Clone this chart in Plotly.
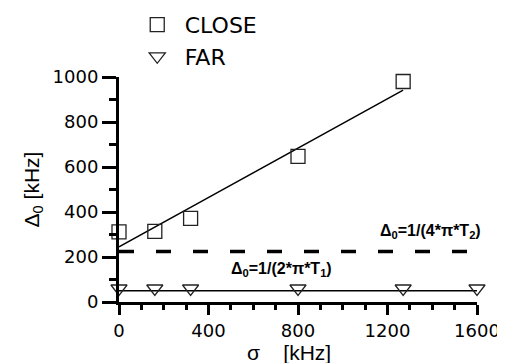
import numpy as np
import plotly.graph_objects as go

# ---- data ----
close_sigma = [0, 160, 320, 800, 1270]
close_delta = [312, 314, 372, 647, 980]
far_sigma = [0, 160, 320, 800, 1270, 1600]
far_delta = [60, 60, 60, 60, 60, 60]
t2_level = 225          # Δ0 = 1/(4πT2)
t1_level = 50           # Δ0 = 1/(2πT1)
t2_span = [0, 1560]
t1_span = [0, 1600]
x_ticks = [0, 400, 800, 1200, 1600]
y_ticks = [0, 200, 400, 600, 800, 1000]

slope, intercept = np.polyfit(close_sigma, close_delta, 1)
fit_x = [close_sigma[0], close_sigma[-1]]
fit_y = [intercept + slope * v for v in fit_x]

fig = go.Figure()
fig.add_trace(go.Scatter(x=fit_x, y=fit_y, mode="lines",
                         line=dict(color="black", width=1.5), showlegend=False))
fig.add_trace(go.Scatter(x=t2_span, y=[t2_level, t2_level], mode="lines",
                         line=dict(color="black", width=3.5, dash="15px,22px"), showlegend=False))
fig.add_trace(go.Scatter(x=t1_span, y=[t1_level, t1_level], mode="lines",
                         line=dict(color="black", width=1.5), showlegend=False))
fig.add_trace(go.Scatter(x=close_sigma, y=close_delta, mode="markers", name="CLOSE",
                         marker=dict(symbol="square-open", size=14, color="#222",
                                     line=dict(width=1.3)), cliponaxis=False))
fig.add_trace(go.Scatter(x=far_sigma, y=far_delta, mode="markers", name="FAR",
                         marker=dict(symbol="triangle-down-open", size=14, color="#222",
                                     line=dict(width=1.3)), cliponaxis=False))

fig.add_annotation(x=1392, y=t2_level, yshift=20, xref="x", yref="y",
                   text="<b>Δ<sub>0</sub>=1/(4*π*T<sub>2</sub>)</b>", showarrow=False,
                   font=dict(family="Liberation Sans", size=16, color="black"))
fig.add_annotation(x=727, y=t1_level, yshift=21, xref="x", yref="y",
                   text="<b>Δ<sub>0</sub>=1/(2*π*T<sub>1</sub>)</b>", showarrow=False,
                   font=dict(family="Liberation Sans", size=16, color="black"))
fig.add_annotation(x=0.475, y=-0.225, xref="paper", yref="paper", yanchor="middle",
                   text="σ\u00a0\u00a0\u00a0\u00a0[kHz]", showarrow=False,
                   font=dict(family="Liberation Sans", size=21, color="black"))

axis_common = dict(showline=True, linecolor="black", linewidth=3, showgrid=False,
                   zeroline=False, ticks="outside", tickcolor="black", automargin=False,
                   tickfont=dict(family="DejaVu Sans", size=18, color="black"))

fig.update_xaxes(range=[0, 1600], tickvals=x_ticks, ticklen=10, tickwidth=3,
                 minor=dict(dtick=100, ticks="outside", ticklen=5, tickwidth=3, tickcolor="black"),
                 **axis_common)
fig.update_yaxes(range=[0, 1000], tickvals=y_ticks, ticklen=14, tickwidth=3,
                 minor=dict(dtick=100, ticks="outside", ticklen=7, tickwidth=3, tickcolor="black"),
                 title=dict(text="Δ<sub>0</sub> [kHz]", standoff=8,
                            font=dict(family="Liberation Sans", size=21, color="black")),
                 **axis_common)

# page body has an 8px margin, so the figure is drawn 8px smaller and offset
fig.update_layout(
    width=497, height=355,
    margin=dict(l=111, r=28, t=69, b=61, autoexpand=False),
    plot_bgcolor="white", paper_bgcolor="white",
    showlegend=True,
    legend=dict(x=0.03, y=1.325, xanchor="left", yanchor="top",
                font=dict(family="DejaVu Sans", size=22, color="black"),
                bgcolor="rgba(0,0,0,0)", itemsizing="trace", itemwidth=45,
                tracegroupgap=0),
)

fig.write_html("out.html")
